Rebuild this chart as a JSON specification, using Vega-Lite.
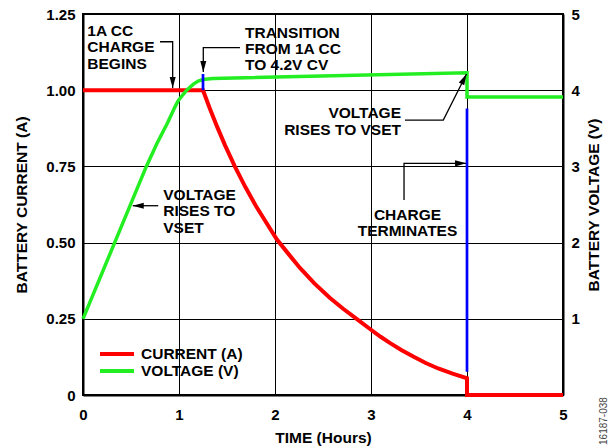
{
  "$schema": "https://vega.github.io/schema/vega-lite/v6.json",
  "width": 480,
  "height": 381,
  "autosize": {"type": "none"},
  "padding": {"left": 83, "top": 14, "right": 48, "bottom": 52},
  "background": "white",
  "config": {
    "font": "Liberation Sans",
    "view": {"stroke": "#000", "strokeWidth": 2},
    "axis": {
      "labelFont": "Liberation Sans", "labelFontSize": 15, "labelFontWeight": "bold", "labelColor": "#000",
      "titleFont": "Liberation Sans", "titleFontSize": 15.5, "titleFontWeight": "bold", "titleColor": "#000",
      "ticks": false, "tickSize": 0, "domainColor": "#000", "domainWidth": 2,
      "gridColor": "#000", "gridWidth": 1, "gridOpacity": 1, "labelFlush": false
    }
  },
  "datasets": {
    "current": [
      {"t": 0, "i": 1}, {"t": 1.25, "i": 1}, {"t": 1.32, "i": 0.941}, {"t": 1.4, "i": 0.878},
      {"t": 1.48, "i": 0.819}, {"t": 1.58, "i": 0.751}, {"t": 1.69, "i": 0.683}, {"t": 1.8, "i": 0.621},
      {"t": 1.91, "i": 0.565}, {"t": 2.02, "i": 0.51}, {"t": 2.14, "i": 0.463}, {"t": 2.26, "i": 0.417},
      {"t": 2.41, "i": 0.366}, {"t": 2.57, "i": 0.319}, {"t": 2.71, "i": 0.283}, {"t": 2.85, "i": 0.25},
      {"t": 3.0, "i": 0.214}, {"t": 3.1, "i": 0.191}, {"t": 3.2, "i": 0.17}, {"t": 3.32, "i": 0.147},
      {"t": 3.44, "i": 0.126}, {"t": 3.57, "i": 0.105}, {"t": 3.7, "i": 0.087}, {"t": 3.85, "i": 0.07},
      {"t": 4.0, "i": 0.055}, {"t": 4.0, "i": 0}, {"t": 5, "i": 0}
    ],
    "voltage": [
      {"t": 0, "v": 1.0}, {"t": 0.33, "v": 2.0}, {"t": 0.66, "v": 3.0}, {"t": 0.77, "v": 3.3},
      {"t": 0.88, "v": 3.57}, {"t": 0.95, "v": 3.76}, {"t": 0.99, "v": 3.86}, {"t": 1.04, "v": 3.94},
      {"t": 1.08, "v": 4.0}, {"t": 1.15, "v": 4.08}, {"t": 1.2, "v": 4.12}, {"t": 1.25, "v": 4.14},
      {"t": 1.35, "v": 4.155}, {"t": 4.0, "v": 4.23}, {"t": 4.0, "v": 3.91}, {"t": 5, "v": 3.91}
    ],
    "markers": [
      {"t": 1.25, "lo": 1.0, "hi": 1.053},
      {"t": 4.0, "lo": 0.076, "hi": 0.94}
    ],
    "notes": [
      {"note": "a1", "t": 0.045, "i": 1.178, "label": ["1A CC", "CHARGE", "BEGINS"]},
      {"note": "a2", "t": 1.6875, "i": 1.172, "label": ["TRANSITION", "FROM 1A CC", "TO 4.2V CV"]},
      {"note": "a3", "t": 3.3125, "i": 0.908, "label": ["VOLTAGE", "RISES TO VSET"]},
      {"note": "a4", "t": 3.38, "i": 0.574, "label": ["CHARGE", "TERMINATES"]},
      {"note": "a5", "t": 0.836, "i": 0.640, "label": ["VOLTAGE", "RISES TO", "VSET"]}
    ],
    "leaders": [
      {"note": "a1", "t": 0.802, "i": 1.159}, {"note": "a1", "t": 0.934, "i": 1.159}, {"note": "a1", "t": 0.934, "i": 1.007},
      {"note": "a2", "t": 1.635, "i": 1.140}, {"note": "a2", "t": 1.253, "i": 1.140}, {"note": "a2", "t": 1.253, "i": 1.060},
      {"note": "a3", "t": 3.354, "i": 0.902}, {"note": "a3", "t": 3.753, "i": 0.902}, {"note": "a3", "t": 3.995, "i": 1.053},
      {"note": "a4", "t": 3.344, "i": 0.640}, {"note": "a4", "t": 3.344, "i": 0.760}, {"note": "a4", "t": 3.99, "i": 0.760},
      {"note": "a5", "t": 0.784, "i": 0.621}, {"note": "a5", "t": 0.518, "i": 0.621}
    ],
    "heads": [
      {"note": "a1", "t": 0.934, "i": 1.007},
      {"note": "a2", "t": 1.253, "i": 1.060},
      {"note": "a3", "t": 3.995, "i": 1.053},
      {"note": "a4", "t": 3.99, "i": 0.760},
      {"note": "a5", "t": 0.518, "i": 0.621}
    ],
    "code": [{"t": 5.46, "i": -0.164, "label": "16187-038"}]
  },
  "layer": [
    {
      "data": {"name": "current"},
      "mark": {"type": "line", "strokeWidth": 4, "clip": false},
      "encoding": {
        "x": {"field": "t", "type": "quantitative", "scale": {"domain": [0, 5], "nice": false},
              "axis": {"values": [0, 1, 2, 3, 4, 5], "format": "d", "title": "TIME (Hours)", "grid": true, "labelPadding": 12, "titlePadding": 8}},
        "y": {"field": "i", "type": "quantitative", "scale": {"domain": [0, 1.25], "nice": false},
              "axis": {"orient": "left", "values": [0, 0.25, 0.5, 0.75, 1, 1.25],
                       "labelExpr": "datum.value == 0 ? '0' : format(datum.value, '.2f')",
                       "title": "BATTERY CURRENT (A)", "grid": true, "labelPadding": 8, "titlePadding": 16.5}},
        "color": {"datum": "CURRENT (A)", "type": "nominal",
                  "scale": {"domain": ["CURRENT (A)", "VOLTAGE (V)"], "range": ["#ff0000", "#22ee22"]},
                  "legend": {"title": null, "orient": "none", "legendX": 15, "legendY": 331.5,
                             "symbolType": "stroke", "symbolSize": 1156, "symbolStrokeWidth": 4,
                             "clipHeight": 17, "labelFont": "Liberation Sans", "labelFontSize": 15.5, "labelFontWeight": "bold",
                             "labelColor": "#000", "labelOffset": 5, "padding": 0, "rowPadding": 0}},
        "order": {"value": null}
      }
    },
    {
      "data": {"name": "voltage"},
      "mark": {"type": "line", "strokeWidth": 3.5, "clip": false},
      "encoding": {
        "x": {"field": "t", "type": "quantitative"},
        "y": {"field": "v", "type": "quantitative", "scale": {"domain": [0, 5], "nice": false},
              "axis": {"orient": "right", "values": [0, 1, 2, 3, 4, 5],
                       "labelExpr": "datum.value == 0 ? '' : datum.label",
                       "title": "BATTERY VOLTAGE (V)", "titleAngle": 270, "titleBaseline": "top", "grid": false, "labelPadding": 8, "titlePadding": 7}},
        "color": {"datum": "VOLTAGE (V)", "type": "nominal"},
        "order": {"value": null}
      }
    },
    {
      "layer": [
        {
          "data": {"name": "markers"},
          "mark": {"type": "rule", "color": "#0000ff", "strokeWidth": 2.7},
          "encoding": {
            "x": {"field": "t", "type": "quantitative"},
            "y": {"field": "lo", "type": "quantitative", "scale": {"domain": [0, 1.25], "nice": false}, "axis": null},
            "y2": {"field": "hi"}
          }
        },
        {
          "data": {"name": "leaders"},
          "mark": {"type": "line", "color": "#000", "strokeWidth": 1.3, "clip": false},
          "encoding": {
            "x": {"field": "t", "type": "quantitative"},
            "y": {"field": "i", "type": "quantitative", "axis": null},
            "detail": {"field": "note"},
            "order": {"value": null}
          }
        },
        {
          "data": {"name": "heads"},
          "transform": [{"filter": {"field": "note", "oneOf": ["a1", "a2"]}}],
          "mark": {"type": "point", "shape": "M0,0L-2,-0.55L-2,0.55Z", "size": 121, "filled": true, "color": "#000", "opacity": 1, "angle": 90},
          "encoding": {"x": {"field": "t", "type": "quantitative"}, "y": {"field": "i", "type": "quantitative", "axis": null}}
        },
        {
          "data": {"name": "heads"},
          "transform": [{"filter": {"field": "note", "oneOf": ["a3"]}}],
          "mark": {"type": "point", "shape": "M0,0L-2,-0.55L-2,0.55Z", "size": 121, "filled": true, "color": "#000", "opacity": 1, "angle": 297},
          "encoding": {"x": {"field": "t", "type": "quantitative"}, "y": {"field": "i", "type": "quantitative", "axis": null}}
        },
        {
          "data": {"name": "heads"},
          "transform": [{"filter": {"field": "note", "oneOf": ["a4"]}}],
          "mark": {"type": "point", "shape": "M0,0L-2,-0.55L-2,0.55Z", "size": 121, "filled": true, "color": "#000", "opacity": 1, "angle": 0},
          "encoding": {"x": {"field": "t", "type": "quantitative"}, "y": {"field": "i", "type": "quantitative", "axis": null}}
        },
        {
          "data": {"name": "heads"},
          "transform": [{"filter": {"field": "note", "oneOf": ["a5"]}}],
          "mark": {"type": "point", "shape": "M0,0L-2,-0.55L-2,0.55Z", "size": 121, "filled": true, "color": "#000", "opacity": 1, "angle": 180},
          "encoding": {"x": {"field": "t", "type": "quantitative"}, "y": {"field": "i", "type": "quantitative", "axis": null}}
        },
        {
          "data": {"name": "notes"},
          "transform": [{"filter": {"field": "note", "oneOf": ["a1", "a2", "a5"]}}],
          "mark": {"type": "text", "align": "left", "baseline": "alphabetic", "font": "Liberation Sans", "fontSize": 15.5, "fontWeight": "bold", "lineHeight": 16.3, "color": "#000"},
          "encoding": {"x": {"field": "t", "type": "quantitative"}, "y": {"field": "i", "type": "quantitative", "axis": null}, "text": {"field": "label"}}
        },
        {
          "data": {"name": "notes"},
          "transform": [{"filter": {"field": "note", "oneOf": ["a3"]}}],
          "mark": {"type": "text", "align": "right", "baseline": "alphabetic", "font": "Liberation Sans", "fontSize": 15.5, "fontWeight": "bold", "lineHeight": 16.3, "color": "#000"},
          "encoding": {"x": {"field": "t", "type": "quantitative"}, "y": {"field": "i", "type": "quantitative", "axis": null}, "text": {"field": "label"}}
        },
        {
          "data": {"name": "notes"},
          "transform": [{"filter": {"field": "note", "oneOf": ["a4"]}}],
          "mark": {"type": "text", "align": "center", "baseline": "alphabetic", "font": "Liberation Sans", "fontSize": 15.5, "fontWeight": "bold", "lineHeight": 16.3, "color": "#000"},
          "encoding": {"x": {"field": "t", "type": "quantitative"}, "y": {"field": "i", "type": "quantitative", "axis": null}, "text": {"field": "label"}}
        },
        {
          "data": {"name": "code"},
          "mark": {"type": "text", "align": "left", "baseline": "alphabetic", "angle": 270, "font": "Liberation Sans", "fontSize": 10, "color": "#444"},
          "encoding": {"x": {"field": "t", "type": "quantitative"}, "y": {"field": "i", "type": "quantitative", "axis": null}, "text": {"field": "label"}}
        }
      ]
    }
  ],
  "resolve": {"scale": {"y": "independent"}}
}
